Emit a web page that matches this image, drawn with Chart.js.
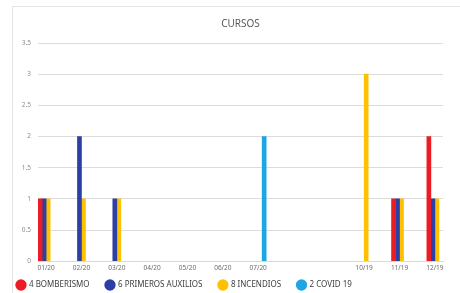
<!DOCTYPE html>
<html>
<head>
<meta charset="utf-8">
<script src="https://cdn.jsdelivr.net/npm/chart.js@4/dist/chart.umd.min.js"></script>
<style>
  html, body { margin: 0; padding: 0; background: #fff; }
  #marco { position: relative; width: 460px; height: 293px; overflow: hidden; }
  #borde { position: absolute; left: 12px; top: 6px; width: 460px; height: 300px; border: 1px solid #e4e4e4; pointer-events: none; }
</style>
</head>
<body>
<div id="marco">
  <canvas id="grafica" width="460" height="293"></canvas>
  <div id="borde"></div>
</div>
<script>
  // Datos de la grafica
  const meses = ['01/20', '02/20', '03/20', '04/20', '05/20', '06/20', '07/20', '', '', '10/19', '11/19', '12/19'];
  const bomberismo = [1, 0, 0, 0, 0, 0, 0, 0, 0, 0, 1, 2];
  const primerosAuxilios = [1, 2, 1, 0, 0, 0, 0, 0, 0, 0, 1, 1];
  const incendios = [1, 1, 1, 0, 0, 0, 0, 0, 0, 3, 1, 1];
  const covid = [0, 0, 0, 0, 0, 0, 2, 0, 0, 0, 0, 0];
  const nombres = ['4 BOMBERISMO', '6 PRIMEROS AUXILIOS', '8 INCENDIOS', '2 COVID 19'];
  const colores = ['#ec1c24', '#2b3fa5', '#ffc000', '#1ea5e3'];
  const ticksY = [0, 0.5, 1, 1.5, 2, 2.5, 3, 3.5];

  // los ceros no se dibujan (evita rayitas sueltas)
  const puntos = serie => serie.map((v, i) => ({ x: i, y: v === 0 ? null : v }));
  const series = [bomberismo, primerosAuxilios, incendios, covid];

  const datos = {
    datasets: series.map((s, k) => ({
      label: nombres[k],
      data: puntos(s),
      backgroundColor: colores[k],
      borderWidth: 0,
      barThickness: 4
    }))
  };

  const fuente = "'Noto Sans', sans-serif";

  new Chart(document.getElementById('grafica'), {
    type: 'bar',
    data: datos,
    options: {
      responsive: false,
      animation: false,
      layout: { padding: { left: 11, right: 17, top: 0, bottom: -6 } },
      scales: {
        x: {
          type: 'linear',
          offset: false,
          min: -0.23,
          max: 11.23,
          grid: { display: false, drawTicks: false },
          border: { display: true, color: '#d9d9d9' },
          ticks: {
            stepSize: 1,
            includeBounds: false,
            autoSkip: false,
            maxRotation: 0,
            padding: 3,
            color: '#6b6b6b',
            font: { family: fuente, size: 6.5 },
            callback: v => Number.isInteger(v) ? meses[v] : ''
          }
        },
        y: {
          min: 0,
          max: 3.5,
          afterBuildTicks: axis => { axis.ticks = ticksY.map(v => ({ value: v })); },
          afterFit: axis => { axis.width = 27; },
          grid: { color: '#dcdcdc', drawTicks: false },
          border: { display: false },
          ticks: {
            padding: 7,
            color: '#8c8c8c',
            font: { family: fuente, size: 6.5 },
            callback: v => String(v)
          }
        }
      },
      plugins: {
        title: {
          display: true,
          fullSize: false,
          text: 'CURSOS',
          color: '#5a5a5a',
          font: { family: fuente, size: 10, weight: 'normal' },
          padding: { top: 18, bottom: 13 }
        },
        legend: {
          position: 'bottom',
          align: 'start',
          labels: {
            usePointStyle: true,
            pointStyle: 'circle',
            padding: 6,
            color: '#404040',
            font: { family: fuente, size: 8 },
            generateLabels: chart => {
              const base = Chart.defaults.plugins.legend.labels.generateLabels(chart);
              return base.map(l => ({ ...l, text: l.text + '\u00a0\u00a0\u00a0\u00a0\u00a0' }));
            }
          }
        },
        tooltip: { enabled: false }
      }
    }
  });
</script>
</body>
</html>
